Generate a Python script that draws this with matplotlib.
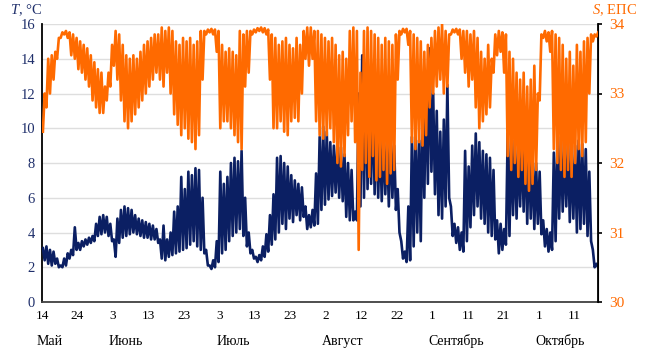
import numpy as np
import matplotlib
matplotlib.use("Agg")
import matplotlib.pyplot as plt

plt.rcParams['font.family'] = ['Liberation Serif', 'DejaVu Serif']
plt.rcParams['mathtext.fontset'] = 'custom'
plt.rcParams['mathtext.rm'] = 'Liberation Serif'
plt.rcParams['mathtext.it'] = 'Liberation Serif:italic'

# Daily maximum / minimum of temperature T (°C), starting 14 May
T_max = [3.1, 3.2, 3.0, 2.9, 2.5, 2.1, 2.5, 2.8, 3.0, 4.3,
         3.4, 3.5, 3.6, 3.7, 3.8, 4.5, 4.9, 5.0, 4.9, 4.5,
         3.6, 4.8, 5.3, 5.5, 5.4, 5.3, 5.0, 4.8, 4.7, 4.6,
         4.5, 4.4, 4.2, 3.6, 4.4, 3.6, 4.0, 5.2, 5.5, 7.2,
         6.5, 7.5, 7.3, 7.7, 7.6, 6.0, 3.0, 2.1, 2.4, 3.5,
         7.5, 6.8, 7.2, 8.0, 8.3, 8.1, 8.7, 6.0, 4.0, 3.0,
         2.6, 2.7, 3.2, 3.9, 5.0, 6.2, 8.3, 8.4, 8.0, 7.8,
         7.3, 7.0, 6.8, 6.6, 5.5, 5.0, 5.3, 7.4, 9.5, 10.1,
         9.8, 9.2, 9.0, 9.1, 8.9, 8.5, 8.0, 7.6, 5.2, 12.0,
         14.2, 13.5, 13.0, 12.2, 11.0, 10.0, 9.6, 9.3, 9.8, 9.0,
         6.5, 3.5, 2.9, 5.5, 9.5, 9.8, 9.3, 11.5, 13.0, 14.6,
         12.0, 11.0, 9.8, 10.5, 12.5, 5.5, 4.5, 4.3, 4.0, 8.7,
         7.8, 9.0, 9.7, 9.2, 8.7, 8.5, 8.3, 7.6, 4.7, 4.5,
         4.2, 9.7, 9.5, 9.3, 9.0, 9.4, 9.6, 9.1, 8.5, 8.0,
         7.5, 4.7, 4.2, 4.0, 8.6, 9.2, 9.5, 9.0, 9.3, 8.8,
         9.0, 9.3, 9.1, 8.8, 7.5, 3.0, 2.2]
T_min = [2.4, 2.2, 2.1, 2.2, 2.0, 2.0, 2.1, 2.5, 2.7, 3.0,
         3.0, 3.2, 3.3, 3.4, 3.5, 3.8, 3.9, 4.0, 3.8, 3.5,
         2.6, 3.4, 3.7, 3.8, 3.9, 4.0, 3.9, 3.8, 3.7, 3.7,
         3.6, 3.6, 3.4, 2.5, 2.4, 2.6, 2.7, 2.8, 2.9, 3.0,
         3.1, 3.3, 3.5, 3.2, 3.0, 2.8, 2.1, 1.9, 2.0, 2.3,
         2.8, 3.0, 3.5, 3.8, 4.0, 4.2, 3.8, 3.2, 2.8, 2.5,
         2.3, 2.4, 2.6, 2.9, 3.3, 3.6, 4.0, 4.5, 4.2, 4.8,
         4.6, 5.0, 4.7, 4.9, 4.2, 4.3, 4.4, 4.5, 5.3, 5.6,
         5.9, 6.1, 6.3, 6.0, 5.8, 4.9, 4.7, 4.7, 4.7, 5.5,
         6.0, 6.5, 6.8, 6.2, 6.0, 5.8, 6.2, 5.5, 6.0, 5.3,
         4.0, 2.5, 2.3, 2.4, 3.2, 4.0, 3.5, 6.0, 6.8, 7.5,
         6.2, 5.0, 4.8, 5.5, 6.0, 3.8, 3.4, 3.0, 2.9, 3.5,
         4.3, 5.0, 5.5, 4.8, 4.5, 4.0, 3.8, 3.6, 2.8, 3.0,
         3.3, 3.8, 5.0, 4.8, 5.5, 5.2, 4.5, 4.8, 4.2, 4.5,
         3.9, 3.2, 2.9, 3.0, 3.5, 4.8, 5.2, 5.5, 4.6, 4.8,
         4.0, 4.2, 4.5, 3.8, 3.5, 2.0, 2.0]

# Daily maximum / minimum of salinity S (PSU)
S_max = [33.0, 33.5, 33.55, 33.6, 33.8, 33.88, 33.9, 33.88, 33.85, 33.8,
         33.75, 33.7, 33.65, 33.55, 33.45, 33.35, 33.3, 33.1, 33.3, 33.7,
         33.9, 33.85, 33.7, 33.55, 33.5, 33.55, 33.5, 33.6, 33.7, 33.75,
         33.8, 33.85, 33.85, 33.95, 33.9, 33.95, 33.9, 33.75, 33.7, 33.8,
         33.75, 33.8, 33.7, 33.75, 33.9, 33.9, 33.92, 33.93, 33.92, 33.9,
         33.7, 33.6, 33.65, 33.6, 33.55, 33.9, 33.85, 33.9, 33.9, 33.92,
         33.94, 33.95, 33.94, 33.92, 33.85, 33.8, 33.7, 33.75, 33.8, 33.7,
         33.65, 33.8, 33.7, 33.9, 33.95, 33.95, 33.9, 33.9, 33.85, 33.8,
         33.75, 33.8, 33.7, 33.55, 33.6, 33.5, 33.9, 33.95, 33.9, 33.3,
         33.9, 33.95, 33.9, 33.85, 33.8, 33.7, 33.8, 33.75, 33.7, 33.85,
         33.9, 33.93, 33.93, 33.9, 33.85, 33.8, 33.75, 33.6, 33.7, 33.8,
         33.9, 33.95, 34.0, 33.9, 33.85, 33.92, 33.93, 33.92, 33.9, 33.9,
         33.85, 33.9, 33.8, 33.6, 33.5, 33.7, 33.5, 33.85, 33.9, 33.88,
         33.85, 33.6, 33.5, 33.3, 33.2, 33.3, 33.1, 33.2, 33.4, 33.0,
         33.85, 33.9, 33.88, 33.9, 33.85, 33.8, 33.7, 33.5, 33.6, 33.4,
         33.7, 33.6, 33.75, 33.8, 33.85, 33.85, 33.88]
S_min = [32.45, 32.8, 33.0, 33.2, 33.5, 33.8, 33.85, 33.8, 33.55, 33.5,
         33.35, 33.3, 33.2, 33.1, 32.9, 32.8, 32.72, 32.72, 32.9, 33.1,
         33.4, 33.2, 32.9, 32.6, 32.5, 32.6, 32.7, 32.8, 32.9, 33.0,
         33.1, 33.2, 33.3, 33.2, 33.1, 33.3, 33.0, 32.7, 32.55, 32.4,
         32.5, 32.35, 32.3, 32.2, 32.4, 33.2, 33.85, 33.88, 33.85, 33.6,
         32.5, 32.6, 32.6, 32.5, 32.4, 32.3, 32.2, 33.1, 33.3, 33.85,
         33.88, 33.9, 33.88, 33.85, 33.2, 32.5, 32.5, 32.6, 32.45, 32.4,
         32.6, 32.65, 32.6, 33.0, 33.5, 33.4, 33.5, 32.6, 32.4, 32.35,
         32.4, 32.5, 32.3, 32.0, 31.95, 32.1, 32.4, 32.6, 32.3, 30.75,
         31.9, 32.0, 31.8, 32.1, 31.75, 31.8, 31.9, 31.7, 31.85, 31.9,
         33.2, 33.85, 33.88, 33.7, 32.3, 32.2, 32.3, 32.25, 32.4, 32.8,
         33.0, 33.1, 33.2, 33.0, 33.1, 33.85, 33.88, 33.85, 33.5, 33.3,
         33.1, 33.2, 32.8, 32.5, 32.6, 32.7, 32.8, 33.3, 33.55, 33.6,
         33.3, 32.1, 31.9, 32.0, 31.8, 31.9, 31.7, 31.6, 31.7, 31.9,
         32.9, 33.8, 33.75, 33.6, 32.2, 32.0, 31.9, 31.8, 31.9, 31.8,
         32.0, 32.2, 32.1, 32.3, 33.0, 33.75, 33.82]

x_tick_days = [0, 10, 20, 30, 40, 50, 60, 70, 80, 90, 100, 110, 120, 130, 140, 150]
x_tick_labels = ['14', '24', '3', '13', '23', '3', '13', '23', '2', '12', '22',
                 '1', '11', '21', '1', '11']
months = ['Май', 'Июнь', 'Июль', 'Август', 'Сентябрь', 'Октябрь']
month_pos = [2.0, 23.7, 53.8, 84.8, 116.6, 145.9]

NAVY = '#0b1f63'
ORANGE = '#ff6a00'

n = len(T_max)
days = np.arange(n)
# interleave daily extremes into a half-day sequence
tT = np.empty(2 * n); vT = np.empty(2 * n)
tT[0::2] = days + 0.25; tT[1::2] = days + 0.75
vT[0::2] = T_max; vT[1::2] = T_min
tS = np.empty(2 * n); vS = np.empty(2 * n)
tS[0::2] = days + 0.25; tS[1::2] = days + 0.75
vS[0::2] = S_min; vS[1::2] = S_max

fig = plt.figure(figsize=(6.52, 3.64), dpi=100)
ax = fig.add_axes([42 / 652, 1 - 302 / 364, (598 - 42) / 652, (302 - 24) / 364])
ax2 = ax.twinx()

ax.plot(tT, vT, color=NAVY, lw=1.9, zorder=3)
ax2.plot(tS, vS, color=ORANGE, lw=1.9, zorder=3)

ax.set_xlim(0, 156.7)
ax.set_ylim(0, 16)
ax2.set_ylim(30, 34)
ax.set_yticks(np.arange(0, 17, 2))
ax2.set_yticks([30, 31, 32, 33, 34])
ax.set_xticks(x_tick_days)
ax.set_xticklabels(x_tick_labels)

ax.grid(axis='y', color='#dedede', lw=1.0, zorder=0)
ax.set_axisbelow(True)

for a in (ax, ax2):
    a.spines['top'].set_visible(False)
ax.spines['left'].set_color('black'); ax.spines['left'].set_linewidth(1.3)
ax.spines['bottom'].set_color('#404040'); ax.spines['bottom'].set_linewidth(1.3)
ax2.spines['right'].set_color('black'); ax2.spines['right'].set_linewidth(1.3)
ax2.spines['left'].set_visible(False)
ax2.spines['bottom'].set_visible(False)

ax.tick_params(axis='y', length=0, pad=5, labelsize=10.5, labelcolor='#1f2f6b')
ax.tick_params(axis='x', length=0, pad=6, labelsize=9.5, labelcolor='black')
ax2.tick_params(axis='y', length=3, width=1.2, direction='out', pad=5,
                labelsize=11, labelcolor=ORANGE, color='black')

for m, p in zip(months, month_pos):
    ax.text(p, -0.155, m, transform=ax.get_xaxis_transform(), ha='center',
            va='baseline', fontsize=10, color='black')

fig.text(10 / 652, 1 - 14 / 364, r'$\mathit{T}$, °C', fontsize=10.5,
         color='#1f2f6b', ha='left', va='baseline')
fig.text(592 / 652, 1 - 14 / 364, r'$\mathit{S}$, ЕПС', fontsize=10.5,
         color=ORANGE, ha='left', va='baseline')

fig.savefig('out.png', dpi=100)
